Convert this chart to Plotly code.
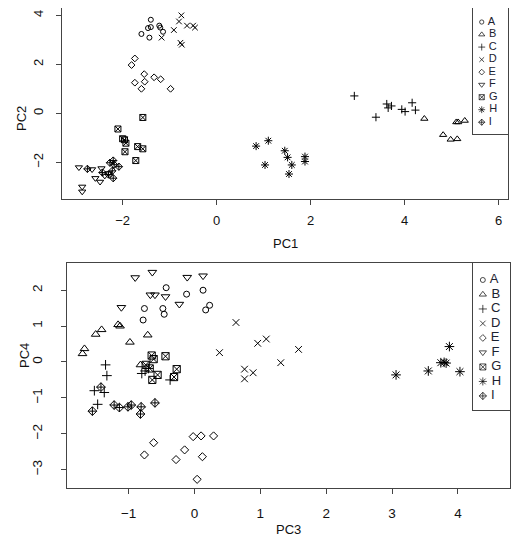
import plotly.graph_objects as go

# grupos e simbolos (estilo pch do R: 1..9)
grupos = ['A', 'B', 'C', 'D', 'E', 'F', 'G', 'H', 'I']
simbolos = ['circle-open', 'triangle-up-open', 'cross-thin-open', 'x-thin-open',
            'diamond-open', 'triangle-down-open', 'square-x-open', 'asterisk-open',
            'diamond-cross-open']
tamanhos = [5, 6.3, 5.8, 5.6, 5.2, 6.3, 6, 6.7, 5.6]

# painel superior: PC1 x PC2
pc1 = {
    'A': [-1.60, -1.40, -1.46, -1.40, -1.22, -1.20, -1.14, -1.43],
    'B': [4.42, 5.10, 5.14, 5.28, 4.82, 4.98, 5.12],
    'C': [2.93, 3.39, 3.62, 3.65, 3.72, 3.94, 4.01, 4.16, 4.23],
    'D': [-0.75, -0.80, -0.91, -0.63, -0.50, -0.46, -1.17, -0.77, -0.74],
    'E': [-1.74, -1.81, -1.54, -1.53, -1.74, -1.60, -1.33, -1.19, -0.98],
    'F': [-2.93, -2.65, -2.45, -2.58, -2.48, -2.38, -2.86, -2.86, -2.30],
    'G': [-1.57, -2.10, -2.00, -1.96, -1.93, -1.95, -1.68, -1.57, -1.72],
    'H': [0.84, 1.10, 1.03, 1.45, 1.51, 1.60, 1.54, 1.88, 1.88],
    'I': [-2.75, -2.43, -2.20, -2.27, -2.18, -2.08, -2.22, -2.30, -2.20],
}
pc2 = {
    'A': [3.24, 3.82, 3.48, 3.52, 3.58, 3.50, 3.33, 3.09],
    'B': [-0.22, -0.36, -0.36, -0.30, -0.88, -1.07, -1.05],
    'C': [0.71, -0.16, 0.38, 0.22, 0.30, 0.16, 0.07, 0.43, 0.13],
    'D': [4.00, 3.75, 3.40, 3.58, 3.58, 3.50, 3.09, 2.88, 2.80],
    'E': [2.24, 1.97, 1.60, 1.29, 1.25, 1.00, 1.47, 1.39, 1.00],
    'F': [-2.21, -2.29, -2.25, -2.65, -2.80, -2.55, -3.00, -3.20, -2.45],
    'G': [-0.17, -0.64, -1.04, -1.08, -1.22, -1.57, -1.36, -1.45, -1.93],
    'H': [-1.34, -1.12, -2.11, -1.53, -1.80, -2.11, -2.48, -1.77, -1.97],
    'I': [-2.27, -2.42, -1.93, -2.02, -2.10, -2.18, -2.35, -2.50, -2.65],
}

# painel inferior: PC3 x PC4
pc3 = {
    'A': [-0.43, -0.12, 0.13, -0.76, -0.48, -0.46, -0.78, 0.17, 0.23],
    'B': [-1.67, -1.70, -1.50, -1.41, -1.16, -1.13, -0.98, -0.71, -0.82],
    'C': [-1.35, -1.33, -1.52, -1.37, -1.47, -0.80, -0.70, -0.37, -0.75],
    'D': [0.63, 0.38, 0.76, 0.76, 0.89, 0.96, 1.09, 1.31, 1.58],
    'E': [-0.76, -0.62, -0.28, -0.15, -0.02, 0.10, 0.29, 0.12, 0.04],
    'F': [-0.90, -0.64, -0.11, 0.13, -0.67, -0.60, -0.44, -0.23, -1.11],
    'G': [-0.65, -0.62, -0.44, -0.74, -0.27, -0.56, -0.31, -0.64, -0.68],
    'H': [3.06, 3.55, 3.74, 3.79, 3.82, 3.87, 4.03],
    'I': [-1.55, -1.42, -1.22, -1.14, -1.01, -0.96, -0.81, -0.82, -0.60],
}
pc4 = {
    'A': [2.07, 1.89, 2.00, 1.49, 1.49, 1.33, 1.17, 1.45, 1.58],
    'B': [0.37, 0.23, 0.77, 0.90, 1.04, 1.00, 0.55, 0.75, -0.08],
    'C': [-0.08, -0.38, -0.80, -0.85, -1.18, -0.32, -0.18, -0.50, -0.25],
    'D': [1.10, 0.26, -0.20, -0.47, -0.30, 0.52, 0.64, -0.02, 0.35],
    'E': [-2.59, -2.25, -2.72, -2.45, -2.08, -2.06, -2.06, -2.64, -3.27],
    'F': [2.35, 2.50, 2.36, 2.40, 1.87, 1.87, 1.82, 1.61, 1.52],
    'G': [0.18, 0.08, 0.16, -0.08, -0.20, -0.36, -0.42, -0.50, -0.18],
    'H': [-0.36, -0.25, -0.02, -0.01, -0.03, 0.43, -0.27],
    'I': [-1.37, -0.70, -1.20, -1.27, -1.25, -1.20, -1.25, -1.45, -1.14],
}

FONTE = 'Liberation Sans, Arial, sans-serif'
TXT = '#111111'

# a pagina tem 8px de margem no body: a figura fica em 8..520 x 8..550
W, H, OFF = 512, 542, 8


def px(x):
    return (x - OFF) / W


def py(y):
    return 1 - (y - OFF) / H


fig = go.Figure()

for g, s, t in zip(grupos, simbolos, tamanhos):
    fig.add_trace(go.Scatter(
        x=pc1[g], y=pc2[g], mode='markers', name=g, showlegend=False,
        marker=dict(symbol=s, size=t, color='black', line=dict(width=1, color='black')),
        xaxis='x', yaxis='y'))
    # painel de baixo foi desenhado um pouco maior
    fig.add_trace(go.Scatter(
        x=pc3[g], y=pc4[g], mode='markers', name=g, showlegend=False,
        marker=dict(symbol=s, size=t * 1.2, color='black', line=dict(width=1, color='black')),
        xaxis='x2', yaxis='y2'))

# legendas no estilo do R (caixa encostada na borda direita)
for eixo_x, eixo_y, fs, esc in [('x3', 'y3', 11, 0.85), ('x4', 'y4', 13, 1.0)]:
    fig.add_trace(go.Scatter(
        x=[0.26] * len(grupos), y=grupos, mode='markers+text',
        text=[' ' + g for g in grupos], textposition='middle right',
        textfont=dict(size=fs, family=FONTE, color='#1c2230'),
        marker=dict(symbol=simbolos, size=[s * esc for s in tamanhos], color='black',
                    line=dict(width=1, color='black')),
        showlegend=False, hoverinfo='skip', cliponaxis=False,
        xaxis=eixo_x, yaxis=eixo_y))

eixo_base = dict(showgrid=False, zeroline=False, showline=True, mirror=True,
                 linecolor='#444', linewidth=1, ticks='outside', ticklen=5,
                 tickcolor='#444', tickfont=dict(size=13, family=FONTE, color=TXT))
eixo_leg = dict(showgrid=False, zeroline=False, showline=True, mirror=True,
                linecolor='#444', linewidth=1, showticklabels=False, ticks='',
                fixedrange=True)

fig.update_layout(
    width=W, height=H,
    margin=dict(l=0, r=0, t=0, b=0),
    paper_bgcolor='white', plot_bgcolor='white',
    showlegend=False,
    xaxis=dict(eixo_base, domain=[px(62), px(508)], range=[-3.29, 6.2],
               tickvals=[-2, 0, 2, 4, 6], anchor='y', ticklabelstandoff=4),
    yaxis=dict(eixo_base, domain=[py(199), py(8)], range=[-3.5, 4.3],
               tickvals=[-2, 0, 2, 4], tickangle=-90, anchor='x', ticklabelstandoff=8),
    xaxis2=dict(eixo_base, domain=[px(66.7), px(510)], range=[-1.94, 4.79],
                tickvals=[-1, 0, 1, 2, 3, 4], anchor='y2', ticklabelstandoff=7,
                tickfont=dict(size=13.5, family=FONTE, color=TXT)),
    yaxis2=dict(eixo_base, domain=[py(488.3), py(263.3)], range=[-3.52, 2.75],
                tickvals=[-3, -2, -1, 0, 1, 2], tickangle=-90, anchor='x2', ticklabelstandoff=13,
                tickfont=dict(size=13.5, family=FONTE, color=TXT)),
    xaxis3=dict(eixo_leg, domain=[px(472.5), px(508)], range=[0, 1], anchor='y3'),
    yaxis3=dict(eixo_leg, domain=[py(133.5), py(8)], range=[8.9, -1.12],
                type='category', categoryorder='array', categoryarray=grupos, anchor='x3'),
    xaxis4=dict(eixo_leg, domain=[px(473.3), px(510)], range=[0, 1], anchor='y4'),
    yaxis4=dict(eixo_leg, domain=[py(410), py(263.3)], range=[8.97, -1.15],
                type='category', categoryorder='array', categoryarray=grupos, anchor='x4'),
    annotations=[
        dict(text='PC1', x=px(285), y=py(243), xref='paper', yref='paper',
             showarrow=False, font=dict(size=13, family=FONTE, color=TXT)),
        dict(text='PC2', x=px(12), y=py(104), xref='paper', yref='paper',
             showarrow=False, textangle=-90, font=dict(size=13, family=FONTE, color=TXT)),
        dict(text='PC3', x=px(288), y=py(539), xref='paper', yref='paper',
             showarrow=False, font=dict(size=13, family=FONTE, color=TXT)),
        dict(text='PC4', x=px(15), y=py(370), xref='paper', yref='paper',
             showarrow=False, textangle=-90, font=dict(size=13, family=FONTE, color=TXT)),
    ],
)

fig.write_html("out.html")
